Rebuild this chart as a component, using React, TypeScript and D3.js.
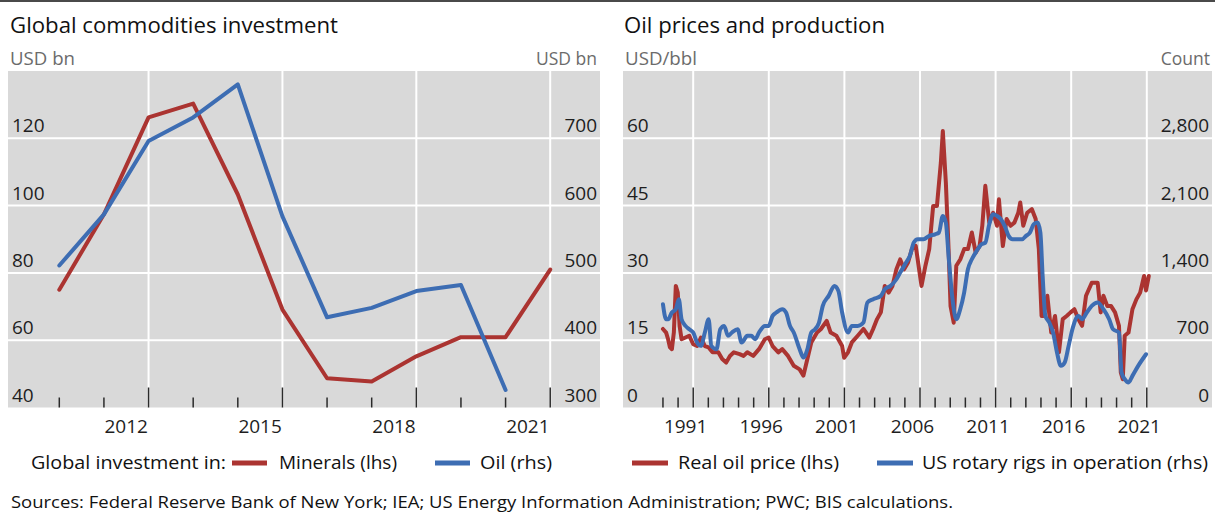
import React from 'react';
import * as d3 from 'd3';

const W = 1215;
const H = 515;
const FONT = "'Open Sans', 'Noto Sans', sans-serif";
const RED = '#ab3431';
const BLUE = '#3d6db3';
const BG = '#d9d9d9';

// ---------- Left panel: Global commodities investment ----------
const investYears = [2010, 2011, 2012, 2013, 2014, 2015, 2016, 2017, 2018, 2019, 2020, 2021];
const mineralsInvest = [75.0, 97.4, 126.2, 130.3, 103.3, 69.1, 48.7, 47.7, 55.2, 60.9, 60.9, 81.0];
const oilYears = [2010, 2011, 2012, 2013, 2014, 2015, 2016, 2017, 2018, 2019, 2020];
const oilInvest = [511, 587, 696, 731, 780, 584, 434, 448, 473, 482, 326];
const leftLabelsL = [40, 60, 80, 100, 120];
const leftLabelsR = [300, 400, 500, 600, 700];
const leftYearLabels = [2012, 2015, 2018, 2021];

// ---------- Right panel: Oil prices and production ----------
const priceDates = [
  1990.00, 1990.21, 1990.34, 1990.46, 1990.59, 1990.72, 1990.85, 1990.98, 1991.10, 1991.23,
  1991.49, 1991.74, 1992.00, 1992.26, 1992.51, 1992.77, 1993.02, 1993.28, 1993.66, 1993.92,
  1994.18, 1994.43, 1994.69, 1995.07, 1995.33, 1995.58, 1995.97, 1996.35, 1996.74, 1996.99,
  1997.25, 1997.63, 1997.89, 1998.27, 1998.65, 1999.04, 1999.29, 1999.55, 1999.81, 2000.19,
  2000.45, 2000.83, 2001.09, 2001.47, 2001.85, 2001.98, 2002.24, 2002.49, 2002.88, 2003.26,
  2003.65, 2003.90, 2004.16, 2004.41, 2004.67, 2004.93, 2005.18, 2005.44, 2005.69, 2005.95,
  2006.21, 2006.46, 2006.72, 2006.97, 2007.10, 2007.36, 2007.61, 2007.87, 2008.12, 2008.38,
  2008.51, 2008.71, 2008.89, 2009.02, 2009.23, 2009.40, 2009.66, 2009.92, 2010.17, 2010.43,
  2010.68, 2010.94, 2011.12, 2011.32, 2011.58, 2011.84, 2012.09, 2012.22, 2012.48, 2012.73,
  2012.99, 2013.24, 2013.50, 2013.63, 2013.83, 2014.09, 2014.40, 2014.65, 2014.86, 2015.04,
  2015.16, 2015.42, 2015.68, 2015.93, 2016.19, 2016.44, 2016.70, 2016.96, 2017.21, 2017.47,
  2017.72, 2017.98, 2018.36, 2018.75, 2018.95, 2019.13, 2019.39, 2019.64, 2019.90, 2020.16,
  2020.28, 2020.41, 2020.54, 2020.79, 2021.05, 2021.31, 2021.56, 2021.82, 2021.95, 2022.13,
];
const priceValues = [
  17.5, 16.7, 15.2, 13.4, 13.0, 16.7, 27.1, 25.6, 18.2, 15.2,
  15.6, 16.0, 14.1, 13.7, 15.6, 13.7, 13.4, 12.3, 12.3, 10.8,
  10.0, 11.5, 12.3, 11.9, 11.5, 12.3, 11.5, 13.0, 15.2, 15.6,
  13.7, 12.3, 13.0, 11.5, 9.3, 8.5, 7.1, 10.8, 14.5, 16.7,
  17.5, 19.3, 16.7, 16.0, 13.7, 11.1, 12.3, 14.5, 16.0, 17.5,
  15.6, 17.5, 19.7, 21.2, 27.1, 25.6, 27.1, 30.8, 33.0, 30.8,
  32.3, 35.3, 36.0, 30.1, 27.1, 31.6, 35.3, 44.9, 44.9, 54.6,
  61.6, 50.1, 35.3, 22.6, 18.9, 31.6, 33.0, 35.3, 35.3, 39.0,
  34.5, 36.0, 40.5, 49.4, 41.2, 43.4, 40.5, 46.4, 36.0, 42.0,
  40.5, 41.2, 43.4, 45.7, 40.5, 43.4, 44.2, 42.0, 35.3, 20.4,
  20.4, 24.9, 16.7, 20.4, 12.3, 19.7, 20.4, 21.2, 21.9, 19.7,
  18.2, 24.9, 27.8, 27.8, 21.2, 24.9, 22.6, 22.6, 21.2, 18.2,
  7.8, 6.3, 16.0, 16.7, 21.9, 24.1, 25.6, 29.3, 26.1, 29.3,
];
const rigDates = [
  1990.00, 1990.21, 1990.34, 1990.59, 1990.85, 1991.05, 1991.23, 1991.49, 1991.74, 1992.00,
  1992.26, 1992.51, 1992.77, 1993.02, 1993.20, 1993.54, 1993.79, 1994.05, 1994.30, 1994.56,
  1994.94, 1995.20, 1995.58, 1995.84, 1996.10, 1996.35, 1996.74, 1996.99, 1997.25, 1997.50,
  1997.89, 1998.14, 1998.40, 1998.65, 1999.04, 1999.29, 1999.55, 1999.81, 2000.06, 2000.32,
  2000.57, 2000.96, 2001.34, 2001.60, 2001.85, 2002.24, 2002.49, 2002.88, 2003.26, 2003.52,
  2003.90, 2004.41, 2004.67, 2005.05, 2005.44, 2005.69, 2006.08, 2006.33, 2006.59, 2006.85,
  2007.23, 2007.61, 2008.00, 2008.25, 2008.51, 2008.71, 2008.89, 2009.15, 2009.40, 2009.66,
  2009.92, 2010.17, 2010.43, 2010.68, 2011.07, 2011.32, 2011.58, 2011.84, 2012.09, 2012.35,
  2012.60, 2012.86, 2013.12, 2013.50, 2013.76, 2014.01, 2014.27, 2014.52, 2014.78, 2014.96,
  2015.11, 2015.29, 2015.55, 2015.80, 2016.06, 2016.32, 2016.57, 2016.83, 2017.08, 2017.47,
  2017.72, 2018.03, 2018.36, 2018.75, 2019.13, 2019.51, 2019.77, 2020.16, 2020.33, 2020.54,
  2020.79, 2021.05, 2021.43, 2021.95,
];
const rigValues = [
  1074, 918, 918, 988, 1022, 1126, 918, 849, 814, 780,
  676, 641, 780, 918, 641, 606, 814, 849, 745, 780,
  814, 676, 745, 745, 711, 780, 849, 849, 953, 988,
  1022, 988, 849, 780, 606, 520, 606, 780, 814, 884,
  1057, 1161, 1265, 1213, 988, 780, 849, 849, 884, 1092,
  1126, 1161, 1230, 1265, 1334, 1403, 1507, 1577, 1715, 1750,
  1750, 1785, 1802, 1819, 1993, 1923, 1577, 1126, 918, 1022,
  1196, 1438, 1542, 1611, 1698, 1715, 1906, 2010, 1993, 1958,
  1889, 1785, 1750, 1750, 1750, 1785, 1819, 1906, 1923, 1819,
  1369, 953, 884, 780, 572, 433, 468, 641, 814, 953,
  918, 988, 1057, 1092, 1022, 918, 814, 780, 364, 295,
  260, 329, 433, 554,
];
const rightLabelsL = [0, 15, 30, 45, 60];
const rightLabelsR = [0, 700, 1400, 2100, 2800];
const rightYearLabels = [1991, 1996, 2001, 2006, 2011, 2016, 2021];

const PLOT_TOP = 71;
const PLOT_BOTTOM = 407.5;

type PanelProps = {
  x0: number;
  x1: number;
  xScale: d3.ScaleLinear<number, number>;
  yL: d3.ScaleLinear<number, number>;
  yR: d3.ScaleLinear<number, number>;
  tickYears: number[];
  majorYears: number[];
  labelYears: number[];
  labelsL: number[];
  labelsR: number[];
  fmtR: (v: number) => string;
  children?: React.ReactNode;
};

function Panel({ x0, x1, xScale, yL, tickYears, majorYears, labelYears, labelsL, labelsR, yR, fmtR, children }: PanelProps) {
  return (
    <g>
      <rect x={x0} y={PLOT_TOP} width={x1 - x0} height={PLOT_BOTTOM - PLOT_TOP} fill={BG} />
      {labelsL.filter((v) => yL(v) < PLOT_BOTTOM - 1).map((v) => (
        <line key={'h' + v} x1={x0} x2={x1} y1={yL(v)} y2={yL(v)} stroke="#ffffff" strokeWidth={2} />
      ))}
      {majorYears.map((y) => (
        <line key={'v' + y} x1={xScale(y)} x2={xScale(y)} y1={PLOT_TOP} y2={PLOT_BOTTOM} stroke="#ffffff" strokeWidth={2} />
      ))}
      {labelsL.map((v) => (
        <text key={'ll' + v} x={x0 + 4} y={yL(v) - 6} fontSize={19} fill="#1e1e1e" fontFamily={FONT}>
          {String(v)}
        </text>
      ))}
      {labelsR.map((v) => (
        <text key={'lr' + v} x={x1 - 3} y={yR(v) - 6} fontSize={19} fill="#1e1e1e" fontFamily={FONT} textAnchor="end">
          {fmtR(v)}
        </text>
      ))}
      {tickYears.map((y) => {
        const major = majorYears.includes(y);
        return (
          <line key={'t' + y} x1={xScale(y)} x2={xScale(y)} y1={PLOT_BOTTOM} y2={PLOT_BOTTOM - (major ? 20 : 10)} stroke="#2a2a2a" strokeWidth={1.5} />
        );
      })}
      {children}
      {labelYears.map((y) => (
        <text key={'xl' + y} x={xScale(y + 0.5)} y={433} fontSize={19} fill="#1e1e1e" fontFamily={FONT} textAnchor="middle">
          {String(y)}
        </text>
      ))}
    </g>
  );
}

export default function App() {
  const xL = d3.scaleLinear().domain([2011, 2022]).range([59.3, 550.2]);
  const yLL = d3.scaleLinear().domain([40, 140]).range([PLOT_BOTTOM, PLOT_TOP]);
  const yLR = d3.scaleLinear().domain([300, 800]).range([PLOT_BOTTOM, PLOT_TOP]);

  const xR = d3.scaleLinear().domain([1992, 2022]).range([693.2, 1146.8]);
  const yRL = d3.scaleLinear().domain([0, 75]).range([PLOT_BOTTOM, PLOT_TOP]);
  const yRR = d3.scaleLinear().domain([0, 3500]).range([PLOT_BOTTOM, PLOT_TOP]);

  const mineralsLine = d3.line<number>()
    .x((_, i) => xL(investYears[i] + 1))
    .y((d) => yLL(d))(mineralsInvest) as string;
  const oilLine = d3.line<number>()
    .x((_, i) => xL(oilYears[i] + 1))
    .y((d) => yLR(d))(oilInvest) as string;

  const priceLine = d3.line<number>()
    .x((_, i) => xR(priceDates[i]))
    .y((d) => yRL(d))(priceValues) as string;
  const rigLine = d3.line<number>()
    .x((_, i) => xR(rigDates[i]))
    .y((d) => yRR(d))
    .curve(d3.curveMonotoneX)(rigValues) as string;

  const leftTickYears = d3.range(2011, 2023);
  const leftMajor = leftYearLabels.map((y) => y + 1);
  const rightTickYears = d3.range(1990, 2023);
  const rightMajor = rightYearLabels.map((y) => y + 1);

  const fmtComma = d3.format(',');

  return (
    <svg width={W} height={H} style={{ position: 'absolute', left: 0, top: 0, background: '#ffffff' }} fontFamily={FONT}>
      <rect x={0} y={0} width={W} height={2} fill="#4a4a4a" />

      <text x={10} y={33} fontSize={21} fill="#111" textLength={328} lengthAdjust="spacingAndGlyphs">Global commodities investment</text>
      <text x={624} y={33} fontSize={21} fill="#111" textLength={261} lengthAdjust="spacingAndGlyphs">Oil prices and production</text>

      <text x={10} y={65} fontSize={17.5} fill="#6b6b6b" textLength={65} lengthAdjust="spacingAndGlyphs">USD bn</text>
      <text x={597} y={65} fontSize={17.5} fill="#6b6b6b" textAnchor="end">USD bn</text>
      <text x={625} y={65} fontSize={17.5} fill="#6b6b6b" textLength={72} lengthAdjust="spacingAndGlyphs">USD/bbl</text>
      <text x={1210} y={65} fontSize={17.5} fill="#6b6b6b" textAnchor="end">Count</text>

      <Panel
        x0={8}
        x1={600}
        xScale={xL}
        yL={yLL}
        yR={yLR}
        tickYears={leftTickYears}
        majorYears={leftMajor}
        labelYears={leftYearLabels}
        labelsL={leftLabelsL}
        labelsR={leftLabelsR}
        fmtR={(v) => String(v)}
      >
        <path d={mineralsLine} fill="none" stroke={RED} strokeWidth={4} strokeLinejoin="round" strokeLinecap="round" />
        <path d={oilLine} fill="none" stroke={BLUE} strokeWidth={4} strokeLinejoin="round" strokeLinecap="round" />
      </Panel>

      <Panel
        x0={623}
        x1={1212}
        xScale={xR}
        yL={yRL}
        yR={yRR}
        tickYears={rightTickYears}
        majorYears={rightMajor}
        labelYears={rightYearLabels}
        labelsL={rightLabelsL}
        labelsR={rightLabelsR}
        fmtR={(v) => fmtComma(v)}
      >
        <path d={priceLine} fill="none" stroke={RED} strokeWidth={4} strokeLinejoin="round" strokeLinecap="round" />
        <path d={rigLine} fill="none" stroke={BLUE} strokeWidth={4} strokeLinejoin="round" strokeLinecap="round" />
      </Panel>

      <text x={31} y={469} fontSize={18} fill="#111" textLength={195} lengthAdjust="spacingAndGlyphs">Global investment in:</text>
      <line x1={232} x2={267} y1={463} y2={463} stroke={RED} strokeWidth={5} />
      <text x={279} y={469} fontSize={18} fill="#111" textLength={118} lengthAdjust="spacingAndGlyphs">Minerals (lhs)</text>
      <line x1={435} x2={470} y1={463} y2={463} stroke={BLUE} strokeWidth={5} />
      <text x={480} y={469} fontSize={18} fill="#111" textLength={72} lengthAdjust="spacingAndGlyphs">Oil (rhs)</text>

      <line x1={632} x2={668} y1={463} y2={463} stroke={RED} strokeWidth={5} />
      <text x={678} y={469} fontSize={18} fill="#111" textLength={161} lengthAdjust="spacingAndGlyphs">Real oil price (lhs)</text>
      <line x1={877} x2={913} y1={463} y2={463} stroke={BLUE} strokeWidth={5} />
      <text x={922} y={469} fontSize={18} fill="#111" textLength={286} lengthAdjust="spacingAndGlyphs">US rotary rigs in operation (rhs)</text>

      <text x={11} y={508} fontSize={17} fill="#111" textLength={942} lengthAdjust="spacingAndGlyphs">
        Sources: Federal Reserve Bank of New York; IEA; US Energy Information Administration; PWC; BIS calculations.
      </text>
    </svg>
  );
}
